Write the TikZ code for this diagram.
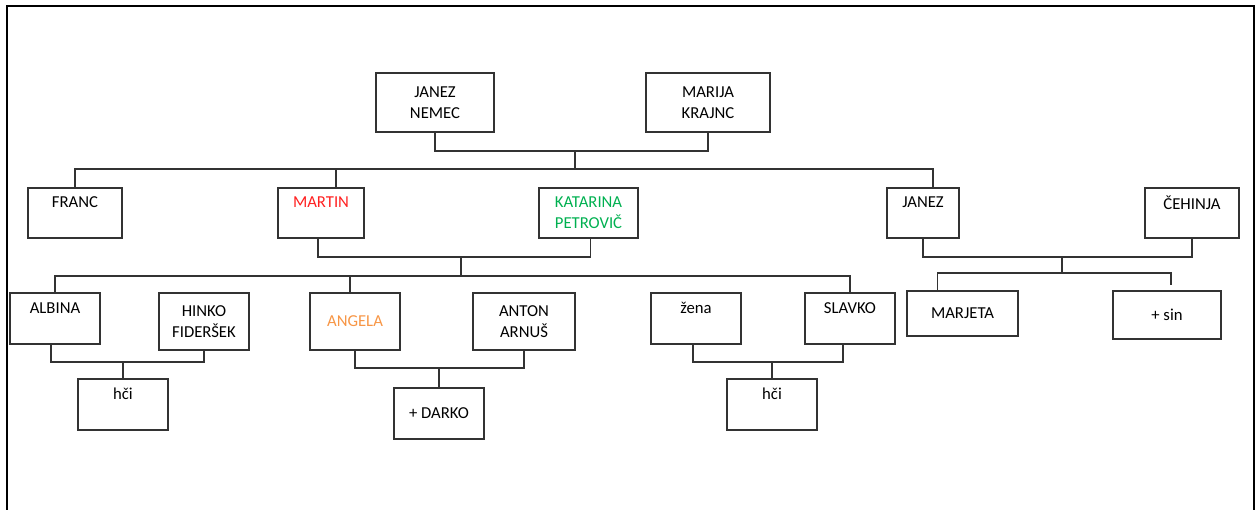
\documentclass[tikz,border=0pt]{standalone}
\usepackage{fontspec}
\setmainfont{Carlito}
\definecolor{martinred}{HTML}{FF2020}
\definecolor{katgreen}{HTML}{00B050}
\definecolor{angorange}{HTML}{F79646}

\begin{document}
\begin{tikzpicture}[x=1pt, y=-1pt,
      person/.style={rectangle, draw=black!80, line width=1.4pt, inner sep=0pt, align=center,
        font=\fontsize{16.7}{21}\selectfont},
      link/.style={draw=black!80, line width=1.4pt}]
      \useasboundingbox (0,0) rectangle (1257,510);
      \draw[line width=2.5pt] (7,510) -- (7,6) -- (1254,6) -- (1254,510);

      % Parents
      \node[person, minimum width=118, minimum height=59] (nemec) at (435,102.5) {JANEZ\\NEMEC};
      \node[person, minimum width=124, minimum height=59] (krajnc) at (708,102.5) {MARIJA\\KRAJNC};

      % Children
      \node[person, minimum width=94, minimum height=50] (franc) at (75,213) {FRANC\\\mbox{}};
      \node[person, minimum width=86, minimum height=50, text=martinred] (martin) at (321,213) {MARTIN\\\mbox{}};
      \node[person, minimum width=99, minimum height=50, text=katgreen] (katarina) at (588.5,213) {KATARINA\\PETROVIČ};
      \node[person, minimum width=72, minimum height=50] (janez) at (923,213) {JANEZ\\\mbox{}};
      \node[person, minimum width=94, minimum height=50] (cehinja) at (1192,213) {ČEHINJA\\\mbox{}};

      % Grandchildren
      \node[person, minimum width=90, minimum height=51] (albina) at (55,318.5) {ALBINA\\\mbox{}};
      \node[person, minimum width=90, minimum height=57] (hinko) at (204,321.5) {HINKO\\FIDERŠEK};
      \node[person, minimum width=90, minimum height=57, text=angorange] (angela) at (355,321.5) {ANGELA};
      \node[person, minimum width=102, minimum height=57] (anton) at (524,321.5) {ANTON\\ARNUŠ};
      \node[person, minimum width=90, minimum height=51] (zena) at (696,318.5) {žena\\\mbox{}};
      \node[person, minimum width=90, minimum height=51] (slavko) at (850,318.5) {SLAVKO\\\mbox{}};
      \node[person, minimum width=111, minimum height=45] (marjeta) at (962.5,313.5) {MARJETA};
      \node[person, minimum width=108, minimum height=48] (sin) at (1167,315) {+ sin};

      % Great-grandchildren
      \node[person, minimum width=90, minimum height=51] (hci1) at (123,404.5) {hči\\\mbox{}};
      \node[person, minimum width=90, minimum height=51] (darko) at (439,413.5) {+ DARKO};
      \node[person, minimum width=90, minimum height=51] (hci2) at (772,404.5) {hči\\\mbox{}};

      % Joints
      \coordinate (j0) at (575,151);
      \coordinate (r1) at (575,169);
      \coordinate (j1) at (461,257);
      \coordinate (r2) at (461,276);
      \coordinate (j2) at (1062,257);
      \coordinate (r3) at (1062,273);
      \coordinate (j3) at (123,362);
      \coordinate (j4) at (439,368);
      \coordinate (j5) at (772,362);

      % Lines
      \draw[link] (nemec.south) |- (j0) -| (krajnc.south);
      \draw[link] (j0) -- (r1);
      \draw[link] (franc.north) |- (r1) -| ([xshift=10]janez.north);
      \draw[link] ([xshift=15]martin.north) -- ([xshift=15]martin.north |- r1);

      \draw[link] ([xshift=-3]martin.south) |- (j1) -| ([xshift=2]katarina.south);
      \draw[link] (j1) -- (r2);
      \draw[link] (albina.north) |- (r2) -| (slavko.north);
      \draw[link] ([xshift=-5]angela.north) -- ([xshift=-5]angela.north |- r2);

      \draw[link] (janez.south) |- (j2) -| (cehinja.south);
      \draw[link] (j2) -- (r3);
      \draw[link] ([xshift=-25]marjeta.north) |- (r3) -| ([xshift=4,yshift=5]sin.north);

      \draw[link] ([xshift=-4]albina.south) |- (j3) -| (hinko.south);
      \draw[link] (j3) -- (hci1.north);
      \draw[link] (angela.south) |- (j4) -| (anton.south);
      \draw[link] (j4) -- (darko.north);
      \draw[link] ([xshift=-3]zena.south) |- (j5) -| ([xshift=-7]slavko.south);
      \draw[link] (j5) -- (hci2.north);
\end{tikzpicture}
\end{document}
